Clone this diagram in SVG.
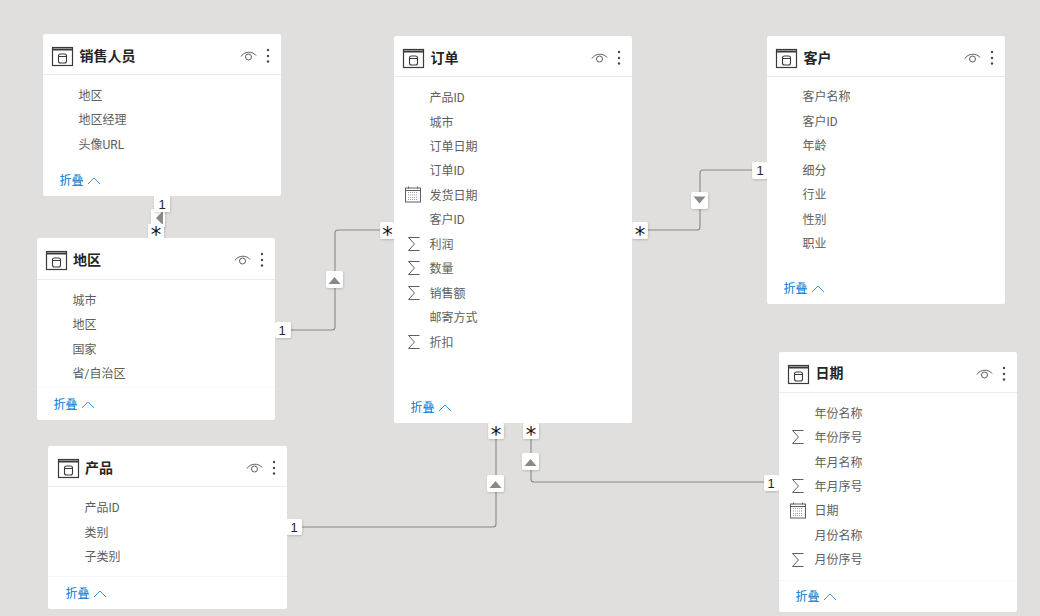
<svg xmlns="http://www.w3.org/2000/svg" width="1040" height="616" viewBox="0 0 1040 616">
  <style>
    text { font-family: "Roboto", "Noto Sans CJK SC", sans-serif; }
    .card { fill: #ffffff; }
    .rule { stroke: #edebe9; stroke-width: 1; }
    .soft { stroke: #f6f5f4; stroke-width: 1; }
    .title { font-size: 14px; font-weight: 700; fill: #252423; }
    .field { font-size: 12px; fill: #605e5c; }
    .fold { font-size: 12px; fill: #0078d4; }
    .chev { fill: none; stroke: #0078d4; stroke-width: 1; opacity: .75; }
    .link { fill: none; stroke: #8a8886; stroke-width: 1.1; }
    .badge { fill: #ffffff; filter: url(#lift); }
    .tri { fill: #8a8886; }
    .one { font-size: 13px; fill: #252423; text-anchor: middle; font-family: "Liberation Sans", sans-serif; }
    .many { font-size: 21px; fill: #111111; text-anchor: middle; font-family: "DejaVu Sans", sans-serif; }
  </style>
  <defs>
    <filter id="lift" x="-30%" y="-30%" width="160%" height="160%">
      <feDropShadow dx="0.5" dy="1" stdDeviation="1" flood-color="#000000" flood-opacity="0.18"/>
    </filter>
    <!-- table glyph, eye and menu dots of a card header -->
    <g id="head">
      <g fill="none" stroke="#3b3a39">
        <rect x="9.500" y="13.500" width="20" height="18" stroke-width="1.2"/>
        <path d="M9.500 15.500H29.500" stroke-width="2"/>
        <rect x="15.500" y="20" width="8" height="9" rx="2" stroke-width="1.1"/>
        <path d="M15.500 22.500H23.500" stroke-width="1"/>
      </g>
      <g fill="none" stroke="#605e5c" stroke-width="1">
        <path d="M198 22.500C201 17 210 17 213 21.500"/>
        <circle cx="205.500" cy="23" r="3"/>
      </g>
      <g fill="#4a4846">
        <circle cx="225" cy="16" r="1.2"/>
        <circle cx="225" cy="22" r="1.2"/>
        <circle cx="225" cy="27.500" r="1.200"/>
      </g>
    </g>
    <path id="sigma" d="M-5.500 -6.500H5.500M-5.500 -6.500L0.500 0L-5.500 6.500H5.500" fill="none" stroke="#605e5c" stroke-width="1"/>
    <g id="cal">
      <rect x="-7.500" y="-7" width="15" height="14" fill="none" stroke="#605e5c" stroke-width="1"/>
      <path d="M-7.500 -4.500H7.500" stroke="#605e5c" stroke-width="1"/>
      <path d="M-5 -2.500H5M-5 0H5M-5 2.500H5M-5 4.500H5" stroke="#a19f9d" stroke-width="1" stroke-dasharray="1 1"/>
      <path d="M-4.500 -8.500V-6.500M4.500 -8.500V-6.500" stroke="#605e5c" stroke-width="1"/>
    </g>
    <path id="up" d="M-6 4H6L0 -3Z" class="tri"/>
    <path id="down" d="M-6 -3.500H6L0 3.500Z" class="tri"/>
  </defs>

  <rect width="1040" height="616" fill="#e1dfdd"/>

  <!-- relationship lines with their direction and cardinality badges -->
  <g id="connectors">
    <path class="link" d="M158 210V226"/>
    <path class="link" d="M290 330H332Q335 330 335 327V233Q335 230 338 230H382"/>
    <path class="link" d="M646 230H697Q700 230 700 227V173Q700 170 703 170H754"/>
    <path class="link" d="M300 527H493Q496 527 496 524V436"/>
    <path class="link" d="M531 436V479Q531 482 534 482H765"/>

    <rect class="badge" x="151" y="209" width="14" height="18" rx="1"/>
    <path class="tri" d="M156 218L163 211V225Z"/>
    <rect class="badge" x="154" y="196" width="16" height="16" rx="1"/>
    <text class="one" x="162" y="208.500">1</text>
    <rect class="badge" x="148" y="224" width="16" height="14" rx="1"/>
    <text class="many" x="156" y="242">*</text>

    <rect class="badge" x="326" y="271" width="17" height="17" rx="2"/>
    <use href="#up" x="334.500" y="280"/>
    <rect class="badge" x="275" y="322" width="16" height="16" rx="2"/>
    <text class="one" x="282" y="335">1</text>
    <rect class="badge" x="380" y="222" width="14" height="17" rx="2"/>
    <text class="many" x="387.500" y="242">*</text>

    <rect class="badge" x="691" y="192" width="17" height="17" rx="2"/>
    <use href="#down" x="699.500" y="200"/>
    <rect class="badge" x="632" y="222" width="16" height="17" rx="2"/>
    <text class="many" x="640" y="242">*</text>
    <rect class="badge" x="752" y="162" width="15" height="17" rx="2"/>
    <text class="one" x="760" y="175">1</text>

    <rect class="badge" x="487" y="475" width="17" height="17" rx="2"/>
    <use href="#up" x="495.500" y="484"/>
    <rect class="badge" x="488" y="423" width="16" height="16" rx="2"/>
    <text class="many" x="496" y="442">*</text>
    <rect class="badge" x="286" y="519" width="16" height="16" rx="2"/>
    <text class="one" x="294" y="532">1</text>

    <rect class="badge" x="522" y="453" width="17" height="17" rx="2"/>
    <use href="#up" x="530.500" y="462"/>
    <rect class="badge" x="523" y="423" width="16" height="16" rx="2"/>
    <text class="many" x="531" y="442">*</text>
    <rect class="badge" x="764" y="475" width="15" height="16" rx="2"/>
    <text class="one" x="771" y="488">1</text>
  </g>

  <g id="sales">
    <rect class="card" x="43" y="34" width="238" height="162" rx="2"/>
    <use href="#head" x="43" y="34"/>
    <path class="rule" d="M43 74.500H281"/>
    <text class="title" x="79.500" y="61">销售人员</text>
    <text class="field" x="78.500" y="100">地区</text>
    <text class="field" x="78.500" y="124">地区经理</text>
    <text class="field" x="78.500" y="149">头像URL</text>
    <text class="fold" x="59.500" y="185">折叠</text>
    <path class="chev" d="M88 184L94 178L100 184"/>
  </g>

  <g id="orders">
    <rect class="card" x="394" y="36" width="238" height="387" rx="2"/>
    <use href="#head" x="394" y="36"/>
    <path class="rule" d="M394 76.500H632"/>
    <text class="title" x="430.500" y="63">订单</text>
    <text class="field" x="429.500" y="102">产品ID</text>
    <text class="field" x="429.500" y="127">城市</text>
    <text class="field" x="429.500" y="151">订单日期</text>
    <text class="field" x="429.500" y="175">订单ID</text>
    <use href="#cal" x="413" y="195"/>
    <text class="field" x="429.500" y="200">发货日期</text>
    <text class="field" x="429.500" y="224">客户ID</text>
    <use href="#sigma" x="414" y="244"/>
    <text class="field" x="429.500" y="249">利润</text>
    <use href="#sigma" x="414" y="268"/>
    <text class="field" x="429.500" y="273">数量</text>
    <use href="#sigma" x="414" y="293"/>
    <text class="field" x="429.500" y="298">销售额</text>
    <text class="field" x="429.500" y="322">邮寄方式</text>
    <use href="#sigma" x="414" y="342"/>
    <text class="field" x="429.500" y="347">折扣</text>
    <text class="fold" x="410.500" y="412">折叠</text>
    <path class="chev" d="M439 411L445 405L451 411"/>
  </g>

  <g id="customers">
    <rect class="card" x="767" y="36" width="238" height="268" rx="2"/>
    <use href="#head" x="767" y="36"/>
    <path class="rule" d="M767 76.500H1005"/>
    <text class="title" x="803.500" y="63">客户</text>
    <text class="field" x="802.500" y="101">客户名称</text>
    <text class="field" x="802.500" y="126">客户ID</text>
    <text class="field" x="802.500" y="150">年龄</text>
    <text class="field" x="802.500" y="175">细分</text>
    <text class="field" x="802.500" y="199">行业</text>
    <text class="field" x="802.500" y="224">性别</text>
    <text class="field" x="802.500" y="248">职业</text>
    <text class="fold" x="783.500" y="293">折叠</text>
    <path class="chev" d="M812 292L818 286L824 292"/>
  </g>

  <g id="calendar">
    <rect class="card" x="779" y="352" width="238" height="260" rx="2"/>
    <use href="#head" x="779" y="352"/>
    <path class="rule" d="M779 392.500H1017"/>
    <path class="soft" d="M779 580.500H1017"/>
    <text class="title" x="815.500" y="378">日期</text>
    <text class="field" x="814.500" y="418">年份名称</text>
    <use href="#sigma" x="798" y="437"/>
    <text class="field" x="814.500" y="442">年份序号</text>
    <text class="field" x="814.500" y="467">年月名称</text>
    <use href="#sigma" x="798" y="486"/>
    <text class="field" x="814.500" y="491">年月序号</text>
    <use href="#cal" x="798" y="511"/>
    <text class="field" x="814.500" y="515">日期</text>
    <text class="field" x="814.500" y="540">月份名称</text>
    <use href="#sigma" x="798" y="560"/>
    <text class="field" x="814.500" y="564">月份序号</text>
    <text class="fold" x="795.500" y="601">折叠</text>
    <path class="chev" d="M824 600L830 594L836 600"/>
  </g>

  <g id="region">
    <rect class="card" x="37" y="238" width="238" height="182" rx="2"/>
    <use href="#head" x="37" y="238"/>
    <path class="rule" d="M37 279.500H275"/>
    <path class="soft" d="M37 387.500H275"/>
    <text class="title" x="73" y="265">地区</text>
    <text class="field" x="72.500" y="305">城市</text>
    <text class="field" x="72.500" y="329">地区</text>
    <text class="field" x="72.500" y="354">国家</text>
    <text class="field" x="72.500" y="378">省/自治区</text>
    <text class="fold" x="53.500" y="409">折叠</text>
    <path class="chev" d="M82 408L88 402L94 408"/>
  </g>

  <g id="products">
    <rect class="card" x="48" y="446" width="239" height="163" rx="2"/>
    <use href="#head" x="49" y="446"/>
    <path class="rule" d="M48 486.500H287"/>
    <path class="soft" d="M48 576.500H287"/>
    <text class="title" x="85" y="473">产品</text>
    <text class="field" x="84.500" y="512">产品ID</text>
    <text class="field" x="84.500" y="537">类别</text>
    <text class="field" x="84.500" y="561">子类别</text>
    <text class="fold" x="65.500" y="598">折叠</text>
    <path class="chev" d="M94 597L100 591L106 597"/>
  </g>
</svg>
